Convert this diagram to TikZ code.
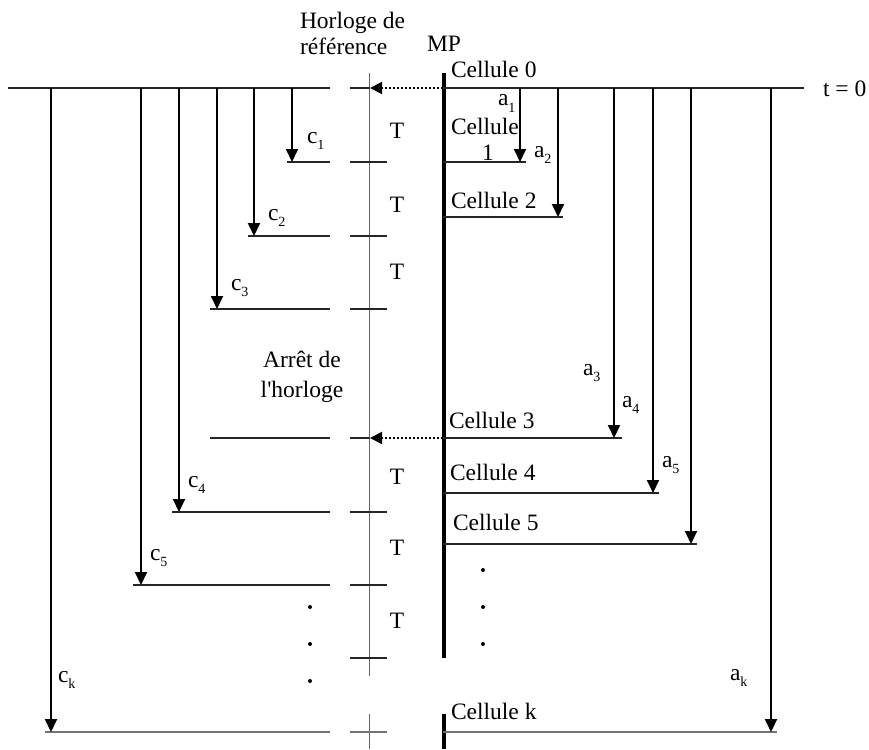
\documentclass[tikz,border=0pt]{standalone}
\usepackage{fontspec}
\setmainfont{Liberation Serif}
\usetikzlibrary{arrows.meta}
\newcommand{\mysub}[1]{\raisebox{-0.28em}{\fontsize{14}{14}\selectfont #1}}
\begin{document}
\begin{tikzpicture}[x=1pt,y=-1pt,
  font=\fontsize{23.5}{27}\selectfont,
  every node/.style={inner sep=0pt,outer sep=0pt},
  hl/.style={line width=1.2pt,black!85},
  hlg/.style={line width=1.8pt,black!55},
  clk/.style={line width=1pt,black!60},
  mpline/.style={line width=4pt},
  arr/.style={line width=2pt,-{Triangle[width=12pt,length=13pt]}},
  dotarr/.style={line width=2pt,dash pattern=on 2pt off 2pt,-{Triangle[width=12pt,length=12pt]}},
  lbl/.style={anchor=base west},
  tlbl/.style={anchor=center},
  dotmark/.style={fill=black}]
\useasboundingbox (0,0) rectangle (869,749);

% ---------- main vertical lines ----------
\coordinate (clkTop) at (369,73);
\coordinate (clkBot) at (369,676);
\coordinate (clkTop2) at (369,714);
\coordinate (clkBot2) at (369,749);
\draw[clk] (clkTop) -- (clkBot);
\draw[clk] (clkTop2) -- (clkBot2);
\coordinate (mpTop) at (444,73);
\coordinate (mpBot) at (444,658);
\coordinate (mpTop2) at (444,714);
\coordinate (mpBot2) at (444,749);
\draw[mpline] (mpTop) -- (mpBot);
\draw[mpline] (mpTop2) -- (mpBot2);

% ---------- t = 0 line ----------
\coordinate (t0a) at (8,88);
\coordinate (t0b) at (330,88);
\coordinate (t0c) at (350,88);
\coordinate (t0d) at (370,88);
\coordinate (t0e) at (443,88);
\coordinate (t0f) at (804,88);
\draw[hl] (t0a) -- (t0b);
\draw[hl] (t0c) -- (t0d);
\draw[hl] (t0e) -- (t0f);
\draw[dotarr] (t0e) -- (t0d);
\node[anchor=base west] (tzero) at (823,96) {t = 0};

% ---------- clock ticks ----------
\foreach \y/\n in {162/1,236/2,309/3,512/4,585/5,658/6} {
  \coordinate (tk\n a) at (350,\y);
  \coordinate (tk\n b) at (387,\y);
  \draw[hl] (tk\n a) -- (tk\n b);
}
\coordinate (tkka) at (350,732);
\coordinate (tkkb) at (387,732);
\draw[hlg] (tkka) -- (tkkb);
\coordinate (tk3a) at (350,438);
\coordinate (tk3b) at (370,438);
\coordinate (mp3) at (443,438);
\draw[hl] (tk3a) -- (tk3b);
\draw[dotarr] (mp3) -- (tk3b);

% ---------- left side: c arrows ----------
\foreach \y/\xa/\xl/\n in {162/292/287/1,236/254/248/2,309/217/210/3,512/179/172/4,585/141/133/5} {
  \coordinate (cl\n a) at (\xl,\y);
  \coordinate (cl\n b) at (330,\y);
  \draw[hl] (cl\n a) -- (cl\n b);
  \coordinate (cs\n) at (\xa,88);
  \coordinate (ce\n) at (\xa,\y);
  \draw[arr] (cs\n) -- (ce\n);
}
\coordinate (clxa) at (210,438);
\coordinate (clxb) at (330,438);
\draw[hl] (clxa) -- (clxb);
\coordinate (clka) at (45,732);
\coordinate (clkb) at (330,732);
\draw[hlg] (clka) -- (clkb);
\coordinate (csk) at (51,88);
\coordinate (cek) at (51,732);
\draw[arr] (csk) -- (cek);

\node[lbl] (c1) at (307,143) {c\mysub{1}};
\node[lbl] (c2) at (268,220) {c\mysub{2}};
\node[lbl] (c3) at (231,290) {c\mysub{3}};
\node[lbl] (c4) at (188,487) {c\mysub{4}};
\node[lbl] (c5) at (150,560) {c\mysub{5}};
\node[lbl] (ck) at (58,682) {c\mysub{k}};

% ---------- right side: a arrows ----------
\foreach \y/\xa/\xl/\n in {162/520/526/1,217/558/563/2,438/614/622/3,493/653/659/4,544/691/697/5} {
  \coordinate (rl\n a) at (443,\y);
  \coordinate (rl\n b) at (\xl,\y);
  \draw[hl] (rl\n a) -- (rl\n b);
  \coordinate (as\n) at (\xa,88);
  \coordinate (ae\n) at (\xa,\y);
  \draw[arr] (as\n) -- (ae\n);
}
\coordinate (rlka) at (443,732);
\coordinate (rlkb) at (777,732);
\draw[hlg] (rlka) -- (rlkb);
\coordinate (ask) at (771,88);
\coordinate (aek) at (771,732);
\draw[arr] (ask) -- (aek);

\node[lbl] (a1) at (498,106) {a\mysub{1}};
\node[lbl] (a2) at (534,157) {a\mysub{2}};
\node[lbl] (a3) at (583,375) {a\mysub{3}};
\node[lbl] (a4) at (622,407) {a\mysub{4}};
\node[lbl] (a5) at (662,467) {a\mysub{5}};
\node[lbl] (ak) at (730,680) {a\mysub{k}};

% ---------- cell labels ----------
\node[lbl] (cel0) at (451,78) {Cellule 0};
\node[lbl] (cel1) at (451,135) {Cellule};
\node[lbl] (cel1n) at (482,160) {1};
\node[lbl] (cel2) at (451,208) {Cellule 2};
\node[lbl] (cel3) at (449,428) {Cellule 3};
\node[lbl] (cel4) at (450,480) {Cellule 4};
\node[lbl] (cel5) at (453,530) {Cellule 5};
\node[lbl] (celk) at (451,719) {Cellule k};

% ---------- headings ----------
\node[lbl] (hor1) at (300,29) {Horloge de};
\node[lbl] (hor2) at (300,55) {référence};
\node[lbl] (mp) at (427,52) {MP};
\node[anchor=base] (arr1) at (302,367) {Arrêt de};
\node[anchor=base] (arr2) at (302,397) {l\textquotesingle horloge};

% ---------- T labels ----------
\foreach \y/\n in {131/1,205/2,272/3,477/4,548/5,621/6} {
  \node[tlbl] (T\n) at (397,\y) {T};
}

% ---------- dots ----------
\foreach \y/\n in {607/1,644/2,681/3} {
  \fill[dotmark] (310,\y) circle (2) coordinate (dl\n);
}
\foreach \y/\n in {570/1,607/2,644/3} {
  \fill[dotmark] (483,\y) circle (2) coordinate (dr\n);
}
\end{tikzpicture}
\end{document}
